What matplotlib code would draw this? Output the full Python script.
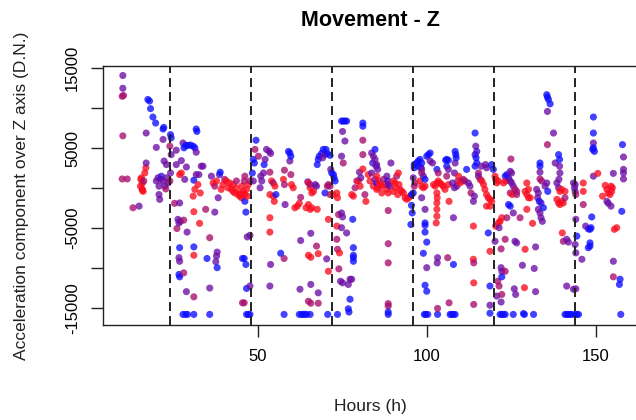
import numpy as np
import matplotlib
matplotlib.use("Agg")
import matplotlib.pyplot as plt

# colour tones: 0 = red ... 1 = blue
R, C, P, V, B = 0.0, 0.35, 0.6, 0.8, 1.0

# ---- segment A (~9-46 h)
hours_a = [10.1, 10.1, 9.9, 10.3, 10.1, 9.9, 11.4, 13.1, 14.9, 15.6,
           15.9, 15.8, 16.1, 15.3, 16.6, 16.9, 17.0, 15.4, 16.3, 15.9,
           17.0, 17.5, 18.0, 18.3, 19.0, 19.8, 22.0, 22.2, 22.0, 20.0,
           22.3, 23.0, 20.5, 21.2, 22.0, 23.0, 23.5, 20.8, 22.5, 21.5,
           20.0, 20.8, 21.0, 22.8, 24.0, 24.2, 24.4, 24.4, 24.2, 24.0,
           25.9, 25.9, 25.4, 26.9, 27.4, 27.9, 28.2, 28.7, 29.4, 30.1,
           30.9, 31.4, 31.8, 32.0, 31.8, 28.9, 27.4, 26.9, 28.4, 26.4,
           27.1, 26.7, 26.1, 28.1, 29.1, 31.1, 32.8, 30.9, 31.4, 32.3,
           33.0, 31.1, 31.8, 32.6, 33.3, 33.8, 34.6, 35.8, 37.3, 26.9,
           31.1, 31.1, 35.0, 26.7, 26.9, 38.0, 37.8, 37.6, 38.0, 28.1,
           26.7, 26.9, 35.8, 28.9, 31.1, 27.9, 28.7, 29.2, 31.1, 35.8,
           36.8, 37.8, 38.7, 38.9, 39.7, 40.7, 41.2, 41.7, 42.2, 42.7,
           43.2, 43.7, 44.2, 44.7, 45.2, 45.6, 38.3, 36.3, 37.3, 40.2,
           39.2, 42.7, 43.7, 45.5, 45.5]
accel_a = [14100, 12500, 11500, 11600, 6550, 1150, 1150, -2450, -2250, 1300,
           650, -100, -400, 250, 1900, 2550, 3150, 1100, 900, -250,
           6900, 11100, 10900, 9950, 8900, 8150, 7400, 7600, 6100, 5100,
           3400, 2950, 1300, 1100, 900, 1300, 650, 250, 250, 1500,
           900, -800, -1400, -100, 5250, 6700, 6300, 4200, 1900, 900,
           4750, 2950, -1900, -1850, 3450, 5650, 5050, 5350, 5350, 5400,
           5250, 5050, 7400, 7100, 4500, 2650, 1900, 1700, 1100, -3900,
           -4150, -4350, -5050, -4000, -5500, -2950, -4400, -1000, -150, 450,
           -600, 1000, 1700, 1700, 2750, 2750, -2650, -6200, -3000, -7450,
           -7350, -8400, -8800, -8700, -9150, -8000, -8500, -9200, -9950, -10600,
           -10800, -11100, -12500, -12950, -13600, -15800, -15800, -15800, -15800, -15800,
           650, 900, 1700, 2000, 450, 900, 50, 650, -150, -400,
           -600, 50, -800, -1000, -1200, -800, -1200, 1500, 250, 1100,
           -150, 450, 900, -8800, -14350]
tone_a = [P, P, C, C, C, C, C, C, P, R,
          R, R, R, R, R, R, P, R, C, R,
          P, B, B, B, B, B, B, B, P, P,
          P, P, P, P, P, P, P, P, P, V,
          P, P, P, C, C, B, B, P, P, C,
          P, P, C, P, P, P, B, B, B, B,
          B, B, B, B, P, P, R, R, P, P,
          P, P, C, C, P, R, R, R, R, R,
          R, B, P, P, P, P, C, C, P, B,
          B, R, B, P, P, P, P, P, B, C,
          B, B, P, P, C, B, B, B, B, B,
          R, R, V, B, R, R, R, R, R, R,
          R, R, R, R, R, R, P, P, C, C,
          R, R, C, B, C]

# ---- segment B (~45-85 h)
hours_b = [45.3, 45.7, 46.2, 46.7, 47.2, 47.7, 46.0, 46.2, 44.8, 46.9,
           46.2, 46.5, 46.9, 47.7, 46.0, 46.5, 46.7, 47.7, 46.0, 46.7,
           47.2, 47.7, 49.5, 49.2, 48.7, 49.0, 48.4, 48.7, 50.2, 50.9,
           51.2, 50.7, 51.9, 52.2, 52.6, 53.4, 53.8, 51.7, 53.6, 54.1,
           54.6, 55.1, 53.6, 54.6, 54.9, 55.4, 53.6, 53.6, 53.8, 53.6,
           57.6, 57.9, 58.1, 57.9, 59.1, 59.5, 59.8, 59.5, 59.8, 60.0,
           60.5, 56.8, 57.8, 57.8, 61.0, 61.7, 62.3, 62.7, 62.7, 62.5,
           62.3, 63.0, 63.5, 64.0, 64.5, 65.5, 64.3, 65.0, 65.5, 66.0,
           67.6, 65.0, 65.5, 66.0, 64.8, 65.5, 66.5, 67.0, 67.4, 65.7,
           67.4, 65.0, 65.7, 67.9, 65.7, 65.0, 65.7, 67.9, 67.9, 67.6,
           67.9, 68.2, 68.9, 69.4, 70.2, 69.2, 69.9, 70.6, 71.4, 69.9,
           70.9, 71.4, 70.6, 70.9, 70.4, 70.9, 70.7, 71.6, 71.9, 72.4,
           72.6, 72.9, 71.4, 72.2, 73.6, 73.4, 73.6, 73.4, 73.9, 73.4,
           73.6, 74.2, 74.0, 74.8, 75.3, 75.8, 76.3, 75.1, 75.8, 74.8,
           75.3, 74.8, 75.1, 74.8, 74.5, 75.1, 76.3, 76.8, 77.3, 77.8,
           77.3, 76.8, 77.0, 78.1, 78.3, 78.3, 78.3, 78.3, 77.8, 78.3,
           78.8, 79.3, 79.8, 80.3, 81.1, 81.1, 81.1, 81.1, 81.1, 80.1,
           80.5, 81.7, 82.0, 83.7, 84.2, 84.7, 84.0, 85.0, 83.7, 84.7,
           85.2, 82.7, 83.2, 84.2, 85.2]
accel_b = [250, -400, -800, -150, 450, 900, 900, 1500, -600, -1000,
           -1650, -3000, -6100, -5900, -8800, -9550, -12550, -12250, -14350, -15800,
           -15800, -15800, 6000, 4850, 3600, 3150, 1900, 900, 4000, 1500,
           900, 50, 2950, 3600, 4850, 4600, 4350, 1900, 2000, 900,
           650, 250, -800, -1000, -1650, -800, -3700, -5500, -9550, -12250,
           1100, 450, -2050, 2250, 4600, 4400, 4000, 3400, 1700, 450,
           50, -8150, -8800, -15800, -2450, -2250, -1900, -1150, -6550, -12650,
           -15800, -15800, -15800, -15800, -15800, -15800, -2450, -2050, -2650, -2450,
           -2650, 650, 50, -600, 800, 450, -400, 450, 250, -5650,
           -7250, -8400, -8650, -8200, -12050, -14150, -14400, -13100, -14400, 2950,
           3600, 4000, 4350, 4850, 4850, 3800, 4200, 4350, 4100, -600,
           450, 250, 250, -3900, -8850, -10400, -15800, 2350, 1900, 1700,
           1300, 900, -800, -800, -15800, -600, -1200, -4750, -3300, -6400,
           -7650, -8100, -10100, 8400, 8400, 8400, 8400, 7100, 5900, 4000,
           3150, -3100, -3600, -4950, -11650, -11850, -5600, -12050, -11400, -11400,
           -13900, -15100, -15500, -3900, -7450, -8400, -8700, -9150, -800, -1000,
           50, 900, 900, 250, 8150, 7750, 6000, 4200, 2400, 2000,
           1300, -800, -1650, 4400, 4000, 3600, 3150, 2750, 1900, 1100,
           650, 1700, 900, 250, -150]
tone_b = [R, R, R, R, R, C, C, C, R, R,
          B, B, P, P, B, B, B, P, C, B,
          B, B, B, C, B, B, B, P, C, P,
          P, P, B, P, P, P, P, P, C, R,
          C, R, R, R, R, B, R, R, P, P,
          R, C, P, C, B, B, B, P, C, R,
          R, B, C, B, R, R, R, C, P, P,
          B, B, B, B, B, B, R, R, R, R,
          R, R, R, R, P, C, R, P, P, P,
          C, R, R, R, P, C, C, P, C, B,
          B, B, B, B, B, P, P, B, B, B,
          C, C, C, R, P, R, B, P, B, B,
          B, B, C, R, B, R, R, R, C, C,
          C, R, C, B, B, B, B, P, P, P,
          C, P, P, P, P, P, P, P, P, P,
          B, B, B, B, B, B, B, B, R, R,
          C, C, R, R, B, B, C, C, R, P,
          P, C, R, P, P, P, V, V, P, P,
          B, R, R, R, R]

# ---- segment C (~85-123 h)
hours_c = [84.7, 85.2, 85.5, 85.2, 85.7, 86.2, 86.7, 85.5, 87.2, 86.7,
           89.4, 88.2, 88.5, 88.6, 89.1, 87.7, 88.2, 88.6, 90.1, 90.6,
           91.1, 91.6, 90.1, 90.8, 91.4, 91.8, 92.1, 92.6, 93.1, 93.6,
           94.1, 94.6, 95.1, 88.6, 88.6, 88.6, 88.6, 88.6, 88.6, 88.6,
           95.5, 96.0, 95.5, 95.7, 95.3, 96.3, 96.3, 96.5, 96.3, 96.0,
           97.0, 97.5, 98.0, 98.5, 97.5, 98.3, 100.0, 100.5, 101.0, 101.0,
           101.7, 98.5, 99.0, 99.5, 98.5, 98.0, 98.5, 99.0, 99.5, 98.5,
           99.5, 99.5, 99.5, 99.5, 100.0, 99.0, 100.0, 99.5, 100.0, 99.3,
           99.7, 100.3, 102.0, 102.5, 103.0, 103.4, 103.9, 104.4, 104.9, 105.4,
           103.0, 103.1, 103.0, 103.0, 103.0, 102.8, 103.4, 103.0, 103.1, 103.2,
           103.2, 103.2, 105.6, 105.9, 106.4, 105.9, 106.4, 105.9, 106.4, 106.6,
           106.2, 106.6, 106.9, 107.4, 107.9, 108.4, 107.9, 107.9, 108.4, 108.6,
           108.7, 108.4, 108.2, 107.6, 108.2, 108.9, 109.2, 109.4, 109.9, 110.5,
           110.8, 111.3, 111.8, 112.3, 112.8, 113.1, 113.8, 114.1, 114.3, 114.5,
           114.8, 114.3, 114.6, 114.3, 114.8, 115.3, 115.8, 116.3, 116.8, 117.2,
           117.7, 118.2, 118.7, 119.2, 118.7, 115.3, 116.1, 117.4, 117.7, 117.7,
           113.8, 113.8, 113.9, 113.9, 113.9, 118.7, 118.7, 118.7, 118.7, 119.2,
           119.7, 120.2, 120.4, 120.7, 121.2, 118.2, 120.2, 120.4, 121.2, 121.7,
           122.2, 122.0, 122.0, 122.2, 122.2, 121.0, 121.4, 120.7, 122.0, 122.2,
           121.7, 122.2, 122.7, 121.4, 122.7, 123.4]
accel_c = [4850, 2950, 2350, 1500, 900, 450, 250, 50, 1100, -600,
           3150, 1500, 900, 450, 250, 450, -150, -600, 900, 650,
           1500, 1900, -400, 50, -800, 450, -150, -400, -600, -1200,
           -1400, -1200, -1000, -2800, -6950, -9350, -14450, -14750, -15500, -15800,
           -800, -600, -2150, -3100, -4550, 2950, 2550, 650, 250, 1300,
           3150, 3400, 3600, 3150, 2750, 2550, 4000, 4200, 4400, 3400,
           3150, 2350, 1500, 1100, 1900, 900, 250, 50, 250, -1200,
           -2650, -4350, -4650, -5500, -6750, -8150, -9950, -12150, -12900, -15800,
           -15800, -15800, 450, 250, 650, 900, 650, 450, 250, -150,
           -600, -1200, -1850, -2650, -3500, -4350, 1900, 2350, -9350, -8700,
           -15800, -15050, 3500, 3600, 3500, 2750, 2350, 1500, 450, -1650,
           -8700, -14350, -15800, -15800, -15800, -15800, -3700, -9550, 4600, 4200,
           3800, 3150, 1900, 650, 50, 250, 900, 1500, 650, 900,
           1100, 900, 2350, 650, 250, -600, -1650, -1000, 6900, 5250,
           4600, 4200, 3800, 2750, 3150, 1900, 1100, 900, 450, -150,
           -800, -1200, -1400, -1650, -2250, 1500, 2750, 2950, 2550, -2250,
           -4750, -8900, -9350, -11850, -14550, -7900, -12250, -14650, -15650, 2950,
           2350, 1500, 1100, 650, 900, -5600, -6650, -4750, -4350, -4150,
           -3700, -7600, -9950, -10400, -11100, -11650, -12250, -13500, -14250, -13300,
           -15800, -15800, -15800, -4950, 650, 900]
tone_c = [B, P, P, R, R, R, R, R, C, R,
          P, P, V, P, P, R, R, R, R, R,
          C, R, R, R, R, R, R, R, R, R,
          R, R, R, C, C, C, C, C, B, B,
          B, B, B, B, B, B, B, C, C, P,
          B, B, B, B, B, B, B, B, B, P,
          P, P, P, B, C, R, R, R, R, P,
          P, B, B, B, B, B, P, B, B, B,
          B, B, R, R, R, R, R, R, R, R,
          R, R, R, R, R, R, C, B, P, P,
          B, C, B, B, B, B, P, C, R, R,
          C, C, B, B, B, B, P, B, B, B,
          B, P, P, P, P, P, C, R, R, R,
          C, C, B, P, P, C, P, P, B, P,
          V, V, B, B, B, C, C, R, R, R,
          R, R, R, R, R, P, P, P, P, R,
          R, R, C, R, C, R, B, P, B, B,
          B, R, R, R, R, B, P, R, R, R,
          R, C, P, P, B, C, C, P, P, C,
          B, B, B, P, R, R]

# ---- segment D (~123-159 h)
hours_d = [123.2, 123.7, 124.2, 124.7, 125.1, 125.6, 126.1, 126.6, 126.6, 124.9,
           124.7, 125.1, 124.7, 125.3, 124.2, 124.7, 123.7, 125.6, 127.6, 123.2,
           126.1, 126.6, 123.2, 123.2, 125.6, 128.6, 128.9, 131.6, 125.9, 126.3,
           129.1, 128.3, 128.9, 129.6, 130.1, 129.1, 129.6, 130.6, 130.1, 129.6,
           131.3, 132.2, 131.8, 132.2, 132.5, 133.0, 132.8, 133.3, 133.8, 133.5,
           133.5, 133.5, 133.5, 134.0, 133.0, 133.5, 133.8, 134.2, 134.5, 135.0,
           135.5, 135.8, 135.5, 135.7, 136.0, 136.5, 135.7, 137.5, 135.7, 138.0,
           139.0, 139.3, 139.3, 139.4, 139.1, 138.5, 139.0, 139.4, 139.9, 140.9,
           138.5, 139.0, 139.4, 139.9, 140.4, 140.9, 140.1, 140.4, 141.4, 141.9,
           141.4, 140.9, 141.4, 141.9, 142.4, 142.9, 143.9, 144.4, 144.9, 143.4,
           144.1, 143.4, 143.9, 143.7, 143.9, 144.1, 144.1, 144.4, 143.9, 144.1,
           145.9, 146.3, 146.3, 146.3, 147.0, 147.8, 148.3, 148.6, 148.8, 148.3,
           148.3, 147.8, 149.3, 149.3, 149.3, 149.3, 149.1, 149.6, 149.3, 150.6,
           152.8, 153.3, 153.7, 154.2, 154.7, 154.9, 154.5, 152.0, 153.3, 153.7,
           154.5, 155.2, 155.5, 156.2, 155.2, 155.2, 157.2, 157.0, 157.4, 157.9,
           158.2, 158.2, 158.2, 158.2, 157.7]
accel_d = [1500, 1700, 1300, 900, 650, 250, -150, -400, -800, 3650,
           2100, 1900, -600, -800, -2050, -2250, -3700, -3100, -3700, -6400,
           -6650, -6850, -10400, -15800, -15800, -15700, -15800, -15800, -12600, -13300,
           -7650, -9650, -12450, 650, -150, -400, -800, -1200, -1200, -2650,
           -4400, -7350, -10050, -12950, -150, -600, -1200, -1650, -1850, 3150,
           2750, 2000, 1150, 900, -2650, -3100, -3700, -4150, -2450, 250,
           650, -400, 11700, 11400, 11100, 10550, 9600, 6900, 5450, 3150,
           4200, 3600, 2750, 1900, 1100, 650, 50, -400, -150, -400,
           -1400, -1850, -2050, -1650, -1850, -1200, -5600, -6650, -6400, -6750,
           -12250, -15800, -15800, -15800, -15800, -15800, -15800, -15800, -15800, -12650,
           -12600, 650, 450, 50, -400, -800, -3900, -6000, -7050, -8100,
           -8900, 650, -400, -2050, -4750, -5100, -5150, -4950, -3600, -6850,
           -7250, -7450, 8900, 6900, 5650, 5050, 4850, 4600, 1500, 1850,
           350, -150, -600, -800, -400, 50, 250, -1000, -1650, -1900,
           -2250, 1850, -5150, -4950, -9150, -11100, -11400, -12050, -15800, 5450,
           3900, 2350, 1900, 1150, -2900]
tone_d = [B, B, V, P, P, P, C, C, C, C,
          P, P, C, R, B, B, C, P, C, C,
          P, P, C, B, B, B, B, B, P, P,
          R, P, R, R, R, R, R, R, R, R,
          R, P, P, P, P, P, P, B, V, B,
          B, P, C, C, P, P, P, P, B, P,
          P, B, B, B, B, B, P, P, C, P,
          B, B, P, P, P, P, P, R, R, R,
          R, R, R, R, R, C, R, C, P, P,
          P, B, B, B, B, B, B, B, B, P,
          P, P, P, P, P, C, P, B, P, P,
          P, R, R, C, P, V, B, B, B, B,
          B, B, B, B, P, B, B, B, P, R,
          R, R, R, R, R, R, R, R, P, P,
          P, P, R, R, P, C, B, B, B, B,
          P, P, P, P, B]

day_marks = [24, 48, 72, 96, 120, 144]
x_ticks = [50, 100, 150]
y_ticks = [-15000, -10000, -5000, 0, 5000, 10000, 15000]
y_ticklabels = ["-15000", "", "-5000", "", "5000", "", "15000"]

title = "Movement - Z"
xlabel = "Hours (h)"
ylabel = "Acceleration component over Z axis (D.N.)"

hours = np.array(hours_a + hours_b + hours_c + hours_d, dtype=float)
accel = np.array(accel_a + accel_b + accel_c + accel_d, dtype=float)
tone = np.array(tone_a + tone_b + tone_c + tone_d, dtype=float)
assert len(hours) == len(accel) == len(tone)

order = np.argsort(hours, kind="stable")
hours, accel, tone = hours[order], accel[order], tone[order]

red = np.array([0.98, 0.05, 0.12])
blue = np.array([0.05, 0.05, 1.0])
rgb = (1 - tone)[:, None] * red + tone[:, None] * blue
colors = np.concatenate([rgb, np.full((len(tone), 1), 0.78)], axis=1)

plt.rcParams["font.family"] = ["Liberation Sans", "DejaVu Sans"]

W, H = 636, 420
fig = plt.figure(figsize=(W / 100, H / 100), dpi=100)
left_px, right_px, top_px, bottom_px = 103, 637, 66, 325
ax = fig.add_axes([left_px / W, 1 - bottom_px / H, (right_px - left_px) / W, (bottom_px - top_px) / H])

ax.scatter(hours, accel, s=26, c=colors, linewidths=0, zorder=2)
for d in day_marks:
    ax.axvline(d, color="#222222", lw=1.4, dashes=(4.6, 2.6), zorder=3)

ax.set_xlim(4.23, 162.2)
ax.set_ylim(-17125, 15290)
ax.set_xticks(x_ticks)
ax.set_xticklabels([str(v) for v in x_ticks], fontsize=12)
ax.set_yticks(y_ticks)
ax.set_yticklabels(y_ticklabels, fontsize=12, rotation=90, va="center")
ax.tick_params(direction="out", length=8.6, width=1.0, color="#222222", pad=9)
ax.tick_params(axis="y", pad=8)
for sp in ax.spines.values():
    sp.set_linewidth(1.0)
    sp.set_color("#222222")

cx = (left_px + right_px) / 2 / W
fig.text(cx, 1 - 21 / H, title, ha="center", va="center", fontsize=15.5, fontweight="bold")
fig.text(cx, 1 - 407 / H, xlabel, ha="center", va="center", fontsize=12.5, color="#222222")
fig.text(22 / W, 1 - (top_px + bottom_px) / 2 / H, ylabel, ha="center", va="center",
         rotation=90, fontsize=12.5, color="#222222")

fig.savefig("out.png", dpi=100)
